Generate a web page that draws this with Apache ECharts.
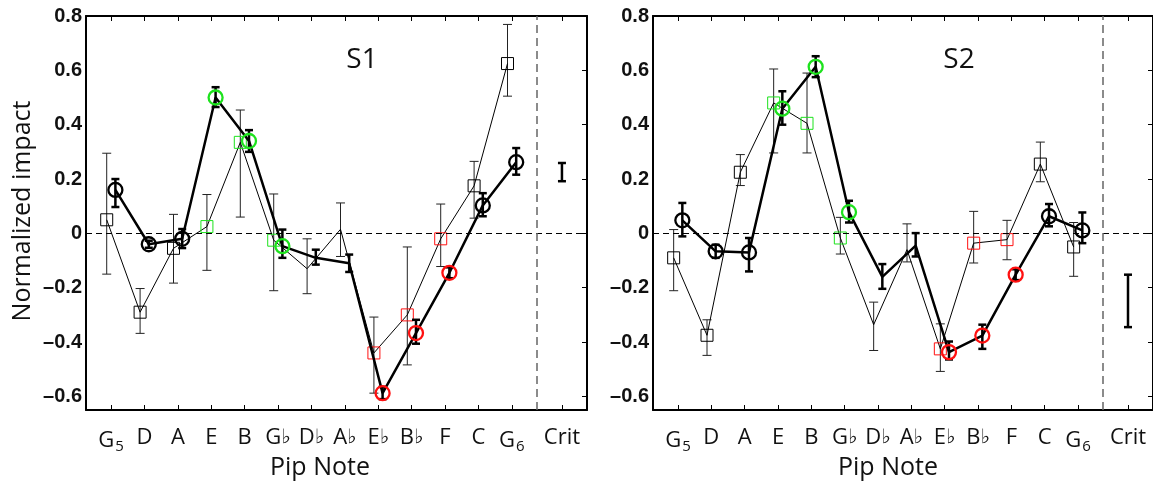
<!DOCTYPE html>
<html>
<head>
<meta charset="utf-8">
<title>Normalized impact by pip note</title>
<script src="https://cdn.jsdelivr.net/npm/echarts@6/dist/echarts.min.js"></script>
<style>
  html, body { margin: 0; padding: 0; background: #fff; }
  #chart { width: 1153px; height: 485px; }
</style>
</head>
<body>
<div id="chart"></div>
<script>
// ---- data -------------------------------------------------------------
// Pip notes along the x axis (1..13), plus the criterion column.
const notes = ['G5', 'D', 'A', 'E', 'B', 'Gb', 'Db', 'Ab', 'Eb', 'Bb', 'F', 'C', 'G6'];
const yTicks = [-0.6, -0.4, -0.2, 0, 0.2, 0.4, 0.6, 0.8];

// Marker colour class per note: k = black, g = raised, r = lowered, '-' = no marker
const markerClass = ['k', 'k', 'k', 'g', 'g', 'g', '-', '-', 'r', 'r', 'r', 'k', 'k'];

// S1 – thin series (squares) with error-bar bounds
const s1SqVal  = [0.05, -0.29, -0.055, 0.025, 0.335, -0.025, -0.13, 0.015, -0.44, -0.30, -0.02, 0.175, 0.625];
const s1SqLow  = [-0.15, -0.368, -0.183, -0.136, 0.06, -0.211, -0.222, -0.085, -0.588, -0.484, -0.122, 0.056, 0.505];
const s1SqHigh = [0.295, -0.203, 0.07, 0.143, 0.454, 0.145, -0.02, 0.112, -0.308, -0.05, 0.108, 0.265, 0.769];
// S1 – thick series (circles)
const s1CiVal  = [0.16, -0.04, -0.02, 0.50, 0.34, -0.047, -0.09, -0.11, -0.588, -0.367, -0.145, 0.103, 0.262];
const s1CiLow  = [0.097, -0.053, -0.054, 0.465, 0.30, -0.09, -0.115, -0.142, -0.61, -0.406, -0.165, 0.063, 0.216];
const s1CiHigh = [0.20, -0.027, 0.016, 0.538, 0.38, 0.014, -0.06, -0.078, -0.565, -0.318, -0.125, 0.148, 0.314];
const s1Crit   = [0.192, 0.259];

// S2 – thin series (squares)
const s2SqVal  = [-0.09, -0.375, 0.225, 0.48, 0.405, -0.017, -0.336, -0.06, -0.425, -0.036, -0.023, 0.255, -0.05];
const s2SqLow  = [-0.211, -0.449, 0.176, 0.296, 0.296, -0.076, -0.431, -0.105, -0.508, -0.109, -0.097, 0.19, -0.158];
const s2SqHigh = [0.014, -0.318, 0.29, 0.605, 0.59, 0.059, -0.253, 0.035, -0.333, 0.081, 0.048, 0.336, 0.04];
// S2 – thick series (circles)
const s2CiVal  = [0.048, -0.066, -0.07, 0.459, 0.613, 0.078, -0.16, -0.045, -0.437, -0.376, -0.152, 0.063, 0.011];
const s2CiLow  = [-0.011, -0.09, -0.14, 0.40, 0.575, 0.04, -0.204, -0.085, -0.464, -0.425, -0.172, 0.026, -0.036];
const s2CiHigh = [0.112, -0.042, -0.017, 0.523, 0.652, 0.12, -0.113, 0.001, -0.398, -0.336, -0.132, 0.108, 0.077];
const s2Crit   = [-0.345, -0.152];

// ---- layout / style constants -------------------------------------------
const CRIT_X = 14.5;
const SEP_X = 13.75;
const SQ_SHIFT = -0.13;
const CI_SHIFT = 0.13;
const COLORS = { k: '#000000', g: '#1de21d', r: '#ff1010' };

const textFont = 'Open Sans';

function noteLabel(n) {
  if (n.length === 2 && n[1] === 'b') return '{n|' + n[0] + '}{f|\u266D}';
  if (n.length === 2) return '{n|' + n[0] + '}{s|' + n[1] + '}';
  return '{n|' + n + '}';
}

const xLabelValues = notes.map((_, i) => i + 1).concat([CRIT_X]);

function xAxisPair(gridIndex) {
  const base = {
    type: 'value', gridIndex, min: 0.25, max: 15.25,
    splitLine: { show: false },
    axisLine: { show: true, onZero: false, lineStyle: { color: '#000', width: 2 } },
    axisTick: { show: true, inside: true, length: 5, customValues: xLabelValues,
                lineStyle: { color: '#000', width: 1 } }
  };
  return [
    Object.assign({}, base, {
      position: 'bottom',
      axisLabel: {
        show: true, customValues: xLabelValues, margin: 17,
        formatter: v => (Math.abs(v - CRIT_X) < 1e-6 ? '{n|Crit}' : noteLabel(notes[Math.round(v) - 1])),
        rich: {
          n: { fontFamily: textFont, fontSize: 22, color: '#111' },
          s: { fontFamily: textFont, fontSize: 15, color: '#111', padding: [12, 0, 0, 1] },
          f: { fontFamily: 'DejaVu Sans', fontSize: 20, color: '#111' }
        }
      }
    }),
    Object.assign({}, base, { position: 'top', axisLabel: { show: false } })
  ];
}

function yAxisPair(gridIndex) {
  const base = {
    type: 'value', gridIndex, min: -0.65, max: 0.8,
    splitLine: { show: false },
    axisLine: { show: true, onZero: false, lineStyle: { color: '#000', width: 2 } }
  };
  return [
    Object.assign({}, base, {
      position: 'left',
      axisTick: { show: false },
      axisLabel: {
        show: true, customValues: yTicks, margin: 4,
        fontFamily: 'Liberation Sans', fontWeight: 'bold', fontSize: 20, color: '#111',
        formatter: v => {
          if (Math.abs(v) < 1e-9) return '0';
          return (v < 0 ? '\u2013' : '') + Math.abs(v).toFixed(1);
        }
      }
    }),
    Object.assign({}, base, {
      position: 'right',
      axisTick: { show: true, inside: true, length: 5, customValues: yTicks,
                  lineStyle: { color: '#000', width: 1 } },
      axisLabel: { show: false }
    })
  ];
}

// Vertical error bar with horizontal caps
function errorBarRenderer(capHalf, width, color) {
  return function (params, api) {
    const x = api.value(0);
    const lo = api.coord([x, api.value(1)]);
    const hi = api.coord([x, api.value(2)]);
    const style = { stroke: color, lineWidth: width, fill: null };
    return {
      type: 'group',
      children: [
        { type: 'line', shape: { x1: lo[0], y1: lo[1], x2: hi[0], y2: hi[1] }, style },
        { type: 'line', shape: { x1: lo[0] - capHalf, y1: lo[1], x2: lo[0] + capHalf, y2: lo[1] }, style },
        { type: 'line', shape: { x1: hi[0] - capHalf, y1: hi[1], x2: hi[0] + capHalf, y2: hi[1] }, style }
      ]
    };
  };
}

function errData(shift, low, high) {
  return low.map((lo, i) => [i + 1 + shift, lo, high[i]]);
}

function lineData(shift, vals, symbol, size) {
  return vals.map((v, i) => {
    const cls = markerClass[i];
    const item = { value: [i + 1 + shift, v] };
    if (cls === '-') {
      item.symbol = 'none';
    } else {
      item.symbol = symbol;
      item.symbolSize = size;
      item.itemStyle = { color: 'rgba(0,0,0,0)', borderColor: COLORS[cls] };
    }
    return item;
  });
}

function panelSeries(p, sqVal, sqLow, sqHigh, ciVal, ciLow, ciHigh, crit) {
  const xi = p * 2, yi = p * 2;
  return [
    {
      type: 'custom', xAxisIndex: xi, yAxisIndex: yi, z: 2, silent: true,
      renderItem: errorBarRenderer(4.5, 1, '#222'),
      data: errData(SQ_SHIFT, sqLow, sqHigh),
      encode: { x: 0, y: [1, 2] }
    },
    {
      type: 'line', xAxisIndex: xi, yAxisIndex: yi, z: 3, silent: true,
      lineStyle: { color: '#000', width: 1 },
      itemStyle: { borderWidth: 1 },
      data: lineData(SQ_SHIFT, sqVal, 'rect', 12),
      markLine: {
        silent: true, symbol: ['none', 'none'], label: { show: false },
        data: [
          { yAxis: 0, lineStyle: { color: '#000', width: 1, type: [6, 4] } },
          { xAxis: SEP_X, lineStyle: { color: '#666', width: 1.5, type: [8, 5] } }
        ]
      }
    },
    {
      type: 'custom', xAxisIndex: xi, yAxisIndex: yi, z: 4, silent: true,
      renderItem: errorBarRenderer(4, 2.5, '#000'),
      data: errData(CI_SHIFT, ciLow, ciHigh).concat([[CRIT_X, crit[0], crit[1]]]),
      encode: { x: 0, y: [1, 2] }
    },
    {
      type: 'line', xAxisIndex: xi, yAxisIndex: yi, z: 5, silent: true,
      lineStyle: { color: '#000', width: 2.5 },
      itemStyle: { borderWidth: 2.3 },
      data: lineData(CI_SHIFT, ciVal, 'circle', 14)
    }
  ];
}

const chart = echarts.init(document.getElementById('chart'), null, { renderer: 'canvas' });

chart.setOption({
  animation: false,
  backgroundColor: '#fff',
  grid: [
    { left: 86, top: 16, width: 501, height: 394 },
    { left: 653, top: 16, width: 500, height: 394 }
  ],
  xAxis: xAxisPair(0).concat(xAxisPair(1)),
  yAxis: yAxisPair(0).concat(yAxisPair(1)),
  series: panelSeries(0, s1SqVal, s1SqLow, s1SqHigh, s1CiVal, s1CiLow, s1CiHigh, s1Crit)
    .concat(panelSeries(1, s2SqVal, s2SqLow, s2SqHigh, s2CiVal, s2CiLow, s2CiHigh, s2Crit)),
  graphic: [
    { type: 'text', x: 23, y: 211, rotation: Math.PI / 2,
      style: { text: 'Normalized impact', font: '25px "Open Sans"', fill: '#111', align: 'center', verticalAlign: 'middle' } },
    { type: 'text', x: 320, y: 468,
      style: { text: 'Pip Note', font: '25px "Open Sans"', fill: '#111', align: 'center', verticalAlign: 'middle' } },
    { type: 'text', x: 888, y: 468,
      style: { text: 'Pip Note', font: '25px "Open Sans"', fill: '#111', align: 'center', verticalAlign: 'middle' } },
    { type: 'text', x: 362, y: 60,
      style: { text: 'S1', font: '28px "Open Sans"', fill: '#111', align: 'center', verticalAlign: 'middle' } },
    { type: 'text', x: 959, y: 60,
      style: { text: 'S2', font: '28px "Open Sans"', fill: '#111', align: 'center', verticalAlign: 'middle' } }
  ]
});
</script>
</body>
</html>
